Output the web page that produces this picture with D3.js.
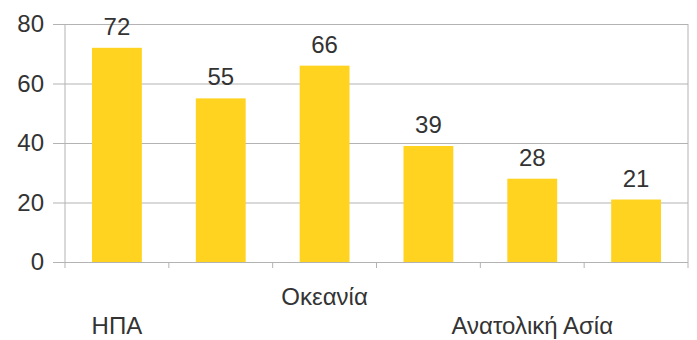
<!DOCTYPE html>
<html>
<head>
<meta charset="utf-8">
<script src="https://cdn.jsdelivr.net/npm/d3@7"></script>
<style>
  body { margin: 0; background: #fff; }
  text { font-family: "Liberation Sans", Arial, sans-serif; fill: #333; }
</style>
</head>
<body>
<script>
//data (only three category names are shown there)
var categories = ["ΗΠΑ", "", "Οκεανία", "", "Ανατολική Ασία", ""];
var values = [72, 55, 66, 39, 28, 21];
var yTicks = [0, 20, 40, 60, 80];

//SVG dimension variables
var w = 697, h = 340;
var plotLeft = 65, plotRight = 688, plotTop = 24, plotBottom = 262;

var svg = d3.select("body")
    .append("svg")
    .attr("width", w)
    .attr("height", h);

//scales
var x = d3.scaleBand()
    .domain(d3.range(categories.length))
    .range([plotLeft, plotRight])
    .paddingInner(0.52)
    .paddingOuter(0.26);

var y = d3.scaleLinear()
    .domain([0, 80])
    .range([plotBottom, plotTop]);

//horizontal gridlines, drawn out past the axis as tick marks
svg.append("g")
    .attr("transform", "translate(" + plotLeft + ",0)")
    .call(d3.axisLeft(y).tickValues(yTicks).tickSize(-(plotRight - plotLeft)).tickSizeOuter(0).tickPadding(21).tickFormat(d3.format("d")))
    .call(function(g){
        g.select(".domain").remove();
        g.selectAll(".tick line").attr("x1", -12).attr("stroke", "#b3b3b3");
        g.selectAll(".tick text").attr("font-size", 24).attr("fill", "#333").style("font-family", "'Liberation Sans', Arial, sans-serif");
    });

//left and right frame lines
svg.append("line")
    .attr("x1", plotLeft).attr("x2", plotLeft)
    .attr("y1", plotTop).attr("y2", plotBottom)
    .attr("stroke", "#b3b3b3");
svg.append("line")
    .attr("x1", plotRight).attr("x2", plotRight)
    .attr("y1", plotTop).attr("y2", plotBottom)
    .attr("stroke", "#b3b3b3");

//category tick marks at the band borders
var step = (plotRight - plotLeft) / categories.length;
svg.selectAll(".xtick")
    .data(d3.range(categories.length + 1))
    .enter().append("line")
    .attr("class", "xtick")
    .attr("x1", function(i){ return plotLeft + i * step; })
    .attr("x2", function(i){ return plotLeft + i * step; })
    .attr("y1", plotBottom)
    .attr("y2", plotBottom + 6)
    .attr("stroke", "#b3b3b3");

//bars
svg.selectAll(".bar")
    .data(values)
    .enter().append("rect")
    .attr("class", "bar")
    .attr("x", function(d, i){ return x(i); })
    .attr("y", function(d){ return y(d); })
    .attr("width", x.bandwidth())
    .attr("height", function(d){ return plotBottom - y(d); })
    .style("fill", "#FFD320");

//value labels
svg.selectAll(".val")
    .data(values)
    .enter().append("text")
    .attr("class", "val")
    .attr("x", function(d, i){ return x(i) + x.bandwidth() / 2; })
    .attr("y", function(d){ return y(d) - 13; })
    .attr("text-anchor", "middle")
    .attr("font-size", 24)
    .text(function(d){ return d; });

//category labels, staggered on two rows
svg.selectAll(".cat")
    .data(categories)
    .enter().append("text")
    .attr("class", "cat")
    .attr("x", function(d, i){ return x(i) + x.bandwidth() / 2; })
    .attr("y", function(d, i){ return i === 2 ? 305 : 334; })
    .attr("text-anchor", "middle")
    .attr("font-size", 24)
    .text(function(d){ return d; });
</script>
</body>
</html>
